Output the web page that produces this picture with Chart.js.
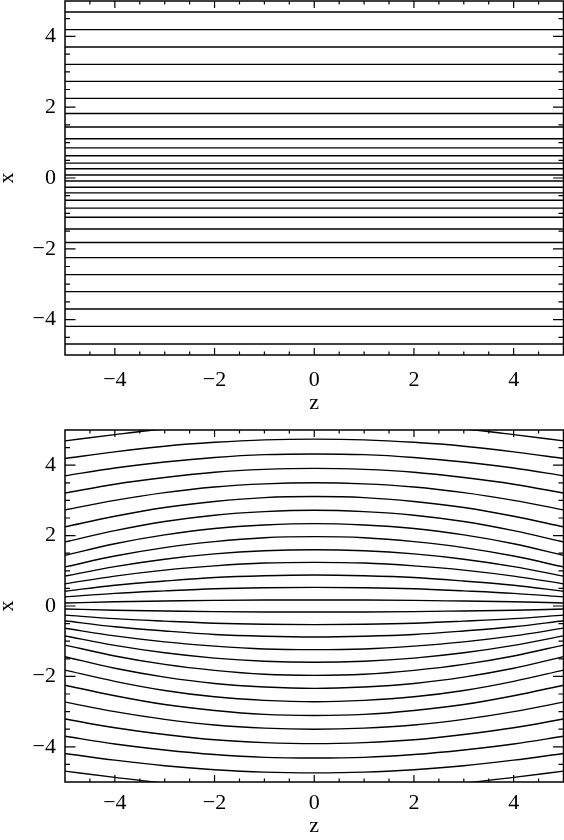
<!DOCTYPE html>
<html>
<head>
<meta charset="utf-8">
<script src="https://cdn.jsdelivr.net/npm/chart.js@4.4.1/dist/chart.umd.min.js"></script>
<style>
  html, body { margin: 0; padding: 0; background: #fff; }
  .panel { position: absolute; left: 0; width: 564px; height: 420px; }
  #top { top: 0; }
  #bottom { top: 420px; }
</style>
</head>
<body>
<div class="panel" id="top"><canvas id="flatChart" width="564" height="420"></canvas></div>
<div class="panel" id="bottom"><canvas id="bulgeChart" width="564" height="420"></canvas></div>
<script>
// labelled ticks, same on both axes of both panels
const tickLabels = [-4, -2, 0, 2, 4];

// top panel: x position of each straight line
const flatLines = [
  4.69, 4.19, 3.70, 3.21, 2.73, 2.25, 1.82, 1.44, 1.11, 0.85, 0.63, 0.42, 0.26, 0.085,
  -0.085, -0.26, -0.42, -0.63, -0.85, -1.11, -1.44, -1.82, -2.25, -2.73, -3.21, -3.70, -4.19, -4.69
];

// bottom panel: z where the curved lines were read
const zSamples = [-5, -4, -3, -2, -1, 0, 1, 2, 3, 4, 5];

// bottom panel, lines above the axis (x at each zSamples entry)
const upperCurves = [
  [4.69, 4.87, 5.03, 5.13, 5.20, 5.22, 5.20, 5.13, 5.03, 4.87, 4.69],
  [4.19, 4.38, 4.54, 4.65, 4.72, 4.74, 4.72, 4.65, 4.54, 4.38, 4.19],
  [3.70, 3.92, 4.09, 4.22, 4.30, 4.32, 4.30, 4.22, 4.09, 3.92, 3.70],
  [3.21, 3.46, 3.65, 3.80, 3.88, 3.91, 3.88, 3.80, 3.65, 3.46, 3.21],
  [2.73, 3.00, 3.22, 3.38, 3.47, 3.50, 3.47, 3.38, 3.22, 3.00, 2.73],
  [2.25, 2.55, 2.80, 2.97, 3.08, 3.11, 3.08, 2.97, 2.80, 2.55, 2.25],
  [1.82, 2.14, 2.40, 2.58, 2.68, 2.72, 2.68, 2.58, 2.40, 2.14, 1.82],
  [1.44, 1.77, 2.02, 2.20, 2.30, 2.34, 2.30, 2.20, 2.02, 1.77, 1.44],
  [1.11, 1.42, 1.66, 1.83, 1.94, 1.97, 1.94, 1.83, 1.66, 1.42, 1.11],
  [0.85, 1.12, 1.33, 1.48, 1.57, 1.60, 1.57, 1.48, 1.33, 1.12, 0.85],
  [0.63, 0.85, 1.02, 1.14, 1.22, 1.24, 1.22, 1.14, 1.02, 0.85, 0.63],
  [0.42, 0.59, 0.71, 0.81, 0.86, 0.88, 0.86, 0.81, 0.71, 0.59, 0.42],
  [0.26, 0.36, 0.43, 0.49, 0.52, 0.53, 0.52, 0.49, 0.43, 0.36, 0.26],
  [0.085, 0.12, 0.14, 0.16, 0.17, 0.17, 0.17, 0.16, 0.14, 0.12, 0.085]
];

// bottom panel, lines below the axis
const lowerCurves = [
  [-0.085, -0.12, -0.14, -0.16, -0.17, -0.17, -0.17, -0.16, -0.14, -0.12, -0.085],
  [-0.26, -0.36, -0.43, -0.49, -0.52, -0.53, -0.52, -0.49, -0.43, -0.36, -0.26],
  [-0.42, -0.59, -0.71, -0.81, -0.86, -0.88, -0.86, -0.81, -0.71, -0.59, -0.42],
  [-0.63, -0.85, -1.02, -1.14, -1.22, -1.24, -1.22, -1.14, -1.02, -0.85, -0.63],
  [-0.85, -1.12, -1.33, -1.48, -1.57, -1.60, -1.57, -1.48, -1.33, -1.12, -0.85],
  [-1.11, -1.42, -1.66, -1.83, -1.94, -1.97, -1.94, -1.83, -1.66, -1.42, -1.11],
  [-1.44, -1.77, -2.02, -2.20, -2.30, -2.34, -2.30, -2.20, -2.02, -1.77, -1.44],
  [-1.82, -2.14, -2.40, -2.58, -2.68, -2.72, -2.68, -2.58, -2.40, -2.14, -1.82],
  [-2.25, -2.55, -2.80, -2.97, -3.08, -3.11, -3.08, -2.97, -2.80, -2.55, -2.25],
  [-2.73, -3.00, -3.22, -3.38, -3.47, -3.50, -3.47, -3.38, -3.22, -3.00, -2.73],
  [-3.21, -3.46, -3.65, -3.80, -3.88, -3.91, -3.88, -3.80, -3.65, -3.46, -3.21],
  [-3.70, -3.92, -4.09, -4.22, -4.30, -4.32, -4.30, -4.22, -4.09, -3.92, -3.70],
  [-4.19, -4.38, -4.54, -4.65, -4.72, -4.74, -4.72, -4.65, -4.54, -4.38, -4.19],
  [-4.69, -4.87, -5.03, -5.13, -5.20, -5.22, -5.20, -5.13, -5.03, -4.87, -4.69]
];

const FONT = { family: '"Liberation Serif", "DejaVu Serif", serif', size: 22 };

const fmt = v => (v < 0 ? '\u2212' + Math.abs(v) : String(v));

// box round the plot plus inward ticks on all four sides (IDL style)
const frameTicks = {
  id: 'frameTicks',
  afterDraw(chart) {
    const { ctx, chartArea: a, scales: { x, y } } = chart;
    ctx.save();
    ctx.strokeStyle = '#000';
    ctx.lineWidth = 1.5;
    ctx.strokeRect(a.left, a.top, a.right - a.left, a.bottom - a.top);
    ctx.lineWidth = 1.2;
    ctx.beginPath();
    for (let v = -4.5; v <= 4.5; v += 0.5) {
      const major = v % 2 === 0;
      const px = x.getPixelForValue(v);
      const lx = major ? 7 : 3.5;
      ctx.moveTo(px, a.bottom); ctx.lineTo(px, a.bottom - lx);
      ctx.moveTo(px, a.top); ctx.lineTo(px, a.top + lx);
      const py = y.getPixelForValue(v);
      const ly = major ? 10.5 : 5;
      ctx.moveTo(a.left, py); ctx.lineTo(a.left + ly, py);
      ctx.moveTo(a.right, py); ctx.lineTo(a.right - ly, py);
    }
    ctx.stroke();
    ctx.restore();
  }
};

function makeChart(canvasId, datasets, pad) {
  const ctx = document.getElementById(canvasId).getContext('2d');
  return new Chart(ctx, {
    type: 'scatter',
    data: { datasets: datasets },
    options: {
      responsive: false,
      animation: false,
      events: [],
      layout: { padding: { top: pad.top, left: 0, right: 0.5, bottom: 0 } },
      plugins: { legend: { display: false }, tooltip: { enabled: false } },
      scales: {
        x: {
          type: 'linear', position: 'bottom', min: -5, max: 5,
          grid: { display: false, drawTicks: false },
          border: { display: false },
          afterBuildTicks: s => { s.ticks = tickLabels.map(v => ({ value: v })); },
          afterFit: s => { s.height = pad.axisH; s.paddingLeft = 0; s.paddingRight = 0; },
          ticks: { font: FONT, color: '#000', padding: pad.labelPad, maxRotation: 0, autoSkip: false, callback: fmt },
          title: { display: true, text: 'z', font: FONT, color: '#000', padding: { top: 0, bottom: pad.titlePad } }
        },
        y: {
          type: 'linear', position: 'left', min: -5, max: 5,
          grid: { display: false, drawTicks: false },
          border: { display: false },
          afterBuildTicks: s => { s.ticks = tickLabels.map(v => ({ value: v })); },
          afterFit: s => { s.width = 65; s.paddingTop = 0; s.paddingBottom = 0; },
          ticks: { font: FONT, color: '#000', padding: 9, autoSkip: false, callback: fmt },
          title: { display: true, text: 'x', font: FONT, color: '#000', padding: { top: -6, bottom: 0 } }
        }
      }
    },
    plugins: [frameTicks]
  });
}

const lineStyle = { showLine: true, pointRadius: 0, borderColor: '#000', borderWidth: 1.4, fill: false };

const flatSets = flatLines.map(v => Object.assign({
  data: [{ x: -5, y: v }, { x: 5, y: v }]
}, lineStyle));

const curveSets = upperCurves.concat(lowerCurves).map(vals => Object.assign({
  data: zSamples.map((z, i) => ({ x: z, y: vals[i] })),
  cubicInterpolationMode: 'monotone'
}, lineStyle));

makeChart('flatChart', flatSets, { top: 1, axisH: 65, labelPad: 12, titlePad: 4 });
makeChart('bulgeChart', curveSets, { top: 10, axisH: 58, labelPad: 8, titlePad: 1 });
</script>
</body>
</html>
